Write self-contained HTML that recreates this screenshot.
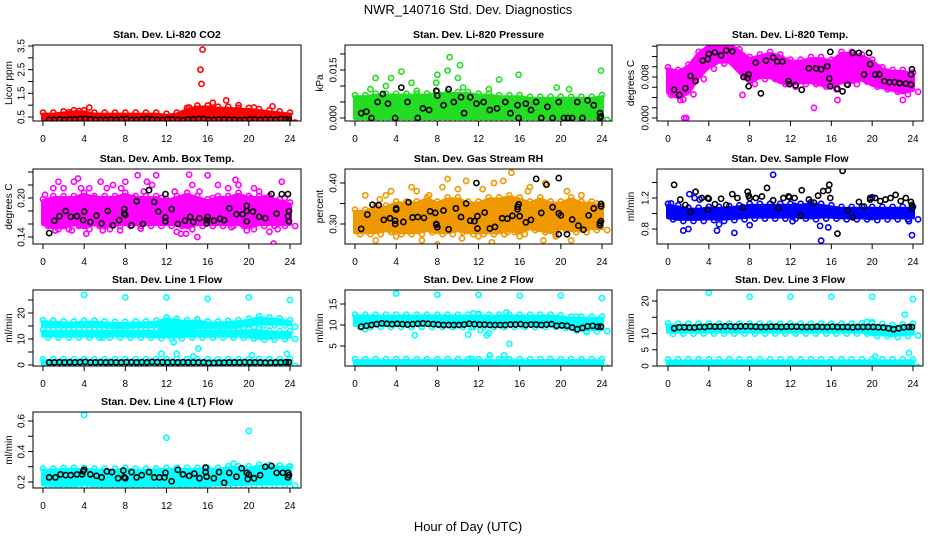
<!DOCTYPE html>
<html><head><meta charset="utf-8">
<style>
html,body{margin:0;padding:0;background:#fff;}
svg{display:block;font-family:"Liberation Sans",Helvetica,Arial,sans-serif;}
</style></head>
<body>
<svg id="chart" width="936" height="540" viewBox="0 0 936 540" xmlns="http://www.w3.org/2000/svg">
<text x="468" y="14" text-anchor="middle" font-size="13">NWR_140716  Std. Dev. Diagnostics</text>
<text x="468" y="531" text-anchor="middle" font-size="13">Hour of Day (UTC)</text>
</svg>
<script>
const xTicks = [0,4,8,12,16,20,24];
const hourGrid = [0,1,2,3,4,5,6,7,8,9,10,11,12,13,14,15,16,17,18,19,20,21,22,23,24];
const blackHours = [0.6,1.1,1.6,2.1,2.6,3.1,3.6,4.1,4.6,5.1,5.6,6.1,6.6,7.1,7.6,8.1,8.6,9.1,9.6,10.1,10.6,11.1,11.6,12.1,12.6,13.1,13.6,14.1,14.6,15.1,15.6,16.1,16.6,17.1,17.6,18.1,18.6,19.1,19.6,20.1,20.6,21.1,21.6,22.1,22.6,23.1,23.6,23.9];

// Panel 1: CO2
const co2Lo = [0.35,0.35,0.35,0.35,0.35,0.35,0.35,0.35,0.35,0.35,0.35,0.35,0.35,0.35,0.35,0.35,0.35,0.35,0.35,0.35,0.35,0.35,0.35,0.35,0.35];
const co2Hi = [0.6,0.6,0.65,0.7,0.7,0.6,0.6,0.6,0.6,0.6,0.6,0.6,0.55,0.6,0.8,0.9,0.9,0.85,0.85,0.8,0.8,0.75,0.7,0.65,0.6];
const co2Out = [[4.5,0.9],[3.5,0.75],[15.5,3.35],[15.3,2.5],[15.4,1.9],[16.5,1.1],[17.8,1.2],[19,1.0],[22.3,0.95],[20.5,0.9],[14.2,0.9],[2.5,0.7]];
const co2Black = [0.38,0.38,0.4,0.38,0.4,0.4,0.42,0.42,0.4,0.38,0.38,0.38,0.4,0.38,0.4,0.42,0.38,0.38,0.4,0.42,0.4,0.38,0.38,0.4,0.4,0.38,0.36,0.4,0.4,0.42,0.42,0.38,0.38,0.4,0.4,0.38,0.38,0.36,0.38,0.4,0.4,0.38,0.4,0.4,0.38,0.42,0.4,0.38];

// Panel 2: Pressure
const presLo = [0,0,0,0,0,0,0,0,0,0,0,0,0,0,0,0,0,0,0,0,0,0,0,0,0];
const presHi = [0.0065,0.0065,0.007,0.007,0.007,0.007,0.007,0.007,0.0075,0.0075,0.0075,0.0075,0.007,0.007,0.0065,0.0065,0.0065,0.006,0.006,0.006,0.006,0.006,0.006,0.006,0.0065];
const presOut = [[2,0.0125],[3.5,0.0125],[4.5,0.0145],[8,0.0135],[9.2,0.019],[9,0.0148],[10.2,0.0165],[10,0.0125],[14,0.012],[15.9,0.0135],[23.9,0.0148],[5.5,0.011],[3,0.01],[19.6,0.0095],[20.8,0.009],[1.5,0.009],[6,0.0085],[7.9,0.011],[10.5,0.0095],[13,0.009]];
const presBlack = [[0.6,0.0015],[1.1,0.002],[1.6,0],[2.2,0.005],[2.7,0.0075],[3.2,0.0045],[3.9,0],[4.5,0.0095],[5.1,0.005],[6.1,0],[6.6,0.003],[7.2,0.0025],[7.9,0.0085],[8,0.007],[8.6,0.004],[9.1,0.009],[9.6,0.005],[10.3,0.0065],[10.6,0.0015],[11.2,0.0065],[11.8,0.0045],[12.5,0.005],[13.1,0.0025],[13.8,0.003],[14.6,0.005],[15.1,0.0015],[15.8,0.004],[15.9,0],[16.6,0.0045],[17.1,0.0025],[17.6,0.005],[18.1,0],[18.7,0.0035],[19.2,0],[19.8,0.005],[20.3,0],[20.7,0],[21.1,0],[21.6,0.005],[22.1,0],[22.6,0.0055],[23.2,0.004],[23.8,0.0015],[23.8,0],[23.9,0.0005]];

// Panel 3: Li-820 temp
const ltLo = [0.005,0.004,0.005,0.008,0.010,0.011,0.011,0.009,0.007,0.008,0.008,0.007,0.0065,0.007,0.007,0.0065,0.006,0.007,0.007,0.0075,0.0065,0.006,0.0055,0.005,0.0055];
const ltHi = [0.0095,0.009,0.010,0.0125,0.014,0.0143,0.0143,0.013,0.0115,0.012,0.0125,0.012,0.011,0.011,0.0115,0.0115,0.011,0.0125,0.0125,0.012,0.011,0.0095,0.009,0.009,0.0085];
const ltOut = [[1.6,0],[1.8,0],[1.2,0.0035],[14.3,0.002],[16.6,0.0035],[23,0.0035],[7.3,0.0045],[0.3,0.0045]];
const ltBlack = [[0.6,0.0055],[1.1,0.0045],[1.7,0.0058],[2.2,0.0082],[2.7,0.0072],[3.4,0.0112],[3.9,0.0115],[4,0.0125],[4.6,0.0128],[5.2,0.0122],[5.7,0.0132],[6.3,0.013],[7.4,0.008],[7.8,0.0078],[7.9,0.0085],[7.9,0.0062],[8.6,0.0108],[9.1,0.0048],[9.6,0.0112],[10.3,0.0118],[10.7,0.011],[11.2,0.011],[11.8,0.0072],[11.9,0.0066],[12.5,0.0064],[13.1,0.0055],[13.8,0.0097],[14.5,0.0097],[15,0.0095],[15.6,0.0101],[15.8,0.0077],[15.9,0.0129],[15.9,0.0062],[16.6,0.0057],[17.1,0.0052],[17.6,0.0065],[18.1,0.0127],[18.7,0.0127],[19.2,0.0085],[19.7,0.0127],[19.8,0.0105],[20.3,0.0085],[20.7,0.0085],[21.2,0.0072],[21.7,0.007],[22.2,0.007],[22.7,0.0068],[23.3,0.0067],[23.8,0.0065],[23.8,0.0085],[23.9,0.0095]];

// Panel 4: Amb box temp
const abLo = [0.16,0.155,0.155,0.16,0.155,0.16,0.155,0.16,0.16,0.16,0.16,0.16,0.16,0.16,0.155,0.16,0.16,0.16,0.16,0.16,0.155,0.16,0.16,0.16,0.16];
const abHi = [0.195,0.2,0.2,0.2,0.205,0.2,0.2,0.2,0.205,0.2,0.2,0.2,0.195,0.2,0.205,0.2,0.195,0.2,0.2,0.205,0.2,0.2,0.2,0.195,0.19];
const abOut = [[0.2,0.205],[0.5,0.175],[1,0.215],[1.5,0.225],[2,0.215],[2.5,0.19],[3,0.225],[3.4,0.23],[3.7,0.215],[4.2,0.145],[4.5,0.215],[5,0.2],[5.6,0.225],[5.8,0.15],[6.2,0.215],[6.8,0.22],[7.5,0.15],[7.6,0.215],[8,0.225],[8.8,0.2],[9.2,0.235],[9.8,0.21],[10.1,0.225],[10.6,0.22],[11,0.235],[11.5,0.2],[12,0.195],[12.8,0.21],[13,0.148],[13.4,0.145],[13.9,0.145],[14.2,0.236],[14.5,0.22],[15,0.14],[15.2,0.21],[16,0.235],[16.5,0.2],[17,0.22],[18,0.215],[18.7,0.228],[19,0.22],[19.8,0.15],[20.2,0.2],[20.5,0.215],[21,0.21],[21.5,0.2],[21.9,0.165],[22,0.148],[22.4,0.13],[22.8,0.152],[23.2,0.225],[23.5,0.2],[1.2,0.15],[2.8,0.15],[9.5,0.153],[18.3,0.155]];
const abBlack = [[0.6,0.146],[1.1,0.165],[1.6,0.172],[2.2,0.18],[2.7,0.171],[3.3,0.172],[3.9,0.166],[4,0.179],[4.6,0.163],[5.2,0.173],[5.7,0.161],[6.3,0.18],[6.8,0.158],[7.4,0.166],[7.9,0.176],[7.9,0.183],[8,0.174],[8.6,0.158],[9.1,0.195],[9.7,0.16],[10.3,0.212],[10.8,0.194],[11.2,0.179],[11.9,0.17],[11.9,0.164],[11.9,0.206],[12.5,0.183],[13.1,0.16],[13.8,0.165],[14.3,0.171],[14.6,0.163],[15.2,0.169],[15.9,0.161],[15.9,0.166],[16,0.171],[16.6,0.165],[17.2,0.168],[17.6,0.166],[18.1,0.184],[18.8,0.175],[19.4,0.175],[19.8,0.164],[19.8,0.18],[19.8,0.188],[20.4,0.179],[21,0.171],[21.6,0.169],[22.2,0.206],[22.7,0.176],[23.2,0.206],[23.8,0.206],[23.8,0.172],[23.9,0.18],[23.9,0.164]];

// Panel 5: Gas stream RH
const rhLo = [0.28,0.28,0.28,0.285,0.28,0.28,0.28,0.285,0.28,0.28,0.285,0.28,0.28,0.28,0.28,0.285,0.28,0.29,0.285,0.28,0.29,0.285,0.285,0.29,0.29];
const rhHi = [0.33,0.33,0.34,0.34,0.35,0.35,0.35,0.36,0.35,0.36,0.36,0.35,0.35,0.36,0.36,0.365,0.36,0.35,0.36,0.35,0.35,0.36,0.35,0.35,0.34];
const rhOut = [[0.3,0.29],[1,0.37],[2,0.26],[2.4,0.36],[3,0.37],[4,0.27],[5.5,0.39],[6.5,0.26],[7.2,0.37],[8,0.25],[8.5,0.39],[9,0.41],[10,0.385],[10.4,0.265],[10.8,0.405],[12,0.27],[12.4,0.385],[13.3,0.255],[13.5,0.4],[14.4,0.405],[15.2,0.425],[14.8,0.28],[16,0.27],[17,0.39],[18.5,0.4],[18.3,0.26],[19.5,0.27],[20.6,0.38],[21,0.26],[22,0.37],[22.5,0.28],[23.5,0.35],[6,0.38],[3.5,0.38],[16.8,0.38]];
const rhBlack = [[0.6,0.288],[1.2,0.323],[1.7,0.347],[2.3,0.346],[2.8,0.31],[3.4,0.314],[3.9,0.3],[3.9,0.308],[4,0.335],[4,0.338],[4.7,0.305],[5.2,0.353],[5.6,0.316],[6.1,0.317],[6.7,0.315],[7.3,0.331],[7.8,0.327],[7.9,0.3],[7.9,0.298],[8,0.292],[8.6,0.333],[9.1,0.287],[9.8,0.338],[10.3,0.317],[10.8,0.35],[11.2,0.308],[11.6,0.307],[11.8,0.4],[11.9,0.319],[11.9,0.289],[12.6,0.328],[13.1,0.289],[13.6,0.293],[14.3,0.314],[14.8,0.313],[15.3,0.32],[15.8,0.336],[15.8,0.342],[15.9,0.348],[16,0.319],[16.6,0.304],[17.1,0.31],[17.6,0.41],[18.1,0.327],[18.6,0.396],[19.2,0.341],[19.8,0.275],[19.8,0.326],[19.8,0.412],[20,0.321],[20.6,0.275],[21.1,0.311],[21.7,0.296],[22.2,0.286],[22.7,0.321],[23.2,0.338],[23.8,0.302],[23.8,0.297],[23.9,0.349],[23.9,0.343],[23.9,0.307]];

// Panel 6: Sample flow
const sfLo = [0.95,0.93,0.93,0.93,0.94,0.93,0.94,0.95,0.96,0.96,0.96,0.96,0.96,0.96,0.95,0.96,0.96,0.95,0.95,0.95,0.94,0.95,0.95,0.95,0.95];
const sfHi = [1.1,1.08,1.05,1.05,1.06,1.06,1.07,1.08,1.1,1.1,1.1,1.1,1.1,1.1,1.12,1.1,1.08,1.06,1.06,1.06,1.06,1.06,1.06,1.06,1.06];
const sfOut = [[1.5,0.78],[2,0.8],[2.1,1.25],[4.8,0.78],[5,0.86],[6.5,0.75],[8,0.85],[10.3,1.5],[12.2,0.9],[15,0.65],[14.9,0.84],[15.7,0.82],[20,1.21],[23.9,0.72],[23.6,0.9],[2.6,1.2],[3.1,1.18],[0.3,1.13],[12.4,1.1]];
const sfBlack = [[0.6,1.37],[1.2,1.18],[1.7,1.11],[2.2,1.02],[2.7,1.28],[3.3,1.2],[3.9,1.2],[3.9,1.05],[4,1.19],[4.6,1.12],[5.2,1.19],[5.7,1.11],[6.3,1.25],[6.8,1.2],[7.3,1.08],[7.8,1.28],[7.9,1.23],[8,1.2],[8.6,1.2],[9.2,1.22],[9.7,1.33],[10.3,1.17],[10.8,1.07],[11.3,1.2],[11.8,1.22],[11.9,1.21],[12.4,1.2],[13.0,0.97],[13.1,1.3],[13.8,1.18],[14.3,1.14],[14.7,1.23],[15.2,1.29],[15.7,1.3],[15.8,1.37],[15.9,1.2],[16.6,0.74],[17.1,1.55],[17.6,1.04],[18.1,0.95],[18.7,1.15],[19.2,1.09],[19.8,1.2],[19.8,1.18],[20.3,1.2],[20.8,1.16],[21.3,1.18],[21.8,1.2],[22.3,1.24],[22.8,1.16],[23.3,1.2],[23.8,1.15],[23.9,1.11],[23.9,1.07]];

// Panel 7: Line 1 flow
const l1UpLo = [15,15,14.8,15,15,15,14.8,14.5,14.5,14.8,14.8,15,14,14,14,14.5,14.5,14.5,14.5,14.8,15.5,16,16,16,15.5];
const l1UpHi = [16.5,16.3,16,16,16.3,16.3,16,15.8,15.8,16,16,16.3,17.5,17,16.5,16.8,16,16,16.2,16.5,17,18,17.5,17.2,16.5];
const l1MidLo = [11.3,11.3,11.3,11.3,11.3,11.3,11.3,11.3,11.3,11.3,11.3,11,11,11,11.3,11.3,11.3,11.3,11.3,11.3,11,10.5,10.5,10.8,10.8];
const l1MidHi = [12.8,12.8,12.8,12.8,12.8,12.8,12.8,12.8,12.8,12.8,12.8,12.8,13.5,13.5,13,12.8,12.8,12.8,12.8,12.8,13,13,12.5,12.3,12.3];
const l1BotLo = [0.4,0.4,0.4,0.4,0.4,0.4,0.4,0.4,0.4,0.4,0.4,0.4,0.4,0.4,0.4,0.4,0.4,0.4,0.4,0.4,0.4,0.4,0.4,0.4,0.4];
const l1BotHi = [1.5,1.5,1.5,1.5,1.5,1.5,1.5,1.5,1.5,1.5,1.5,1.5,1.5,1.5,1.5,1.5,1.5,1.5,1.5,1.5,1.5,1.5,1.5,1.5,1.5];
const l1Out = [[4,27],[8,26],[12,26],[16,25.5],[20,26],[24,25],[11.5,4.3],[12.7,8.7],[13,4.3],[14.6,3.3],[15.1,6.3],[20.3,3.7],[23.7,4.3],[5.8,10.5],[20.5,10.3]];
const l1Black = [1.0,1.0,1.1,1.0,1.1,1.0,1.1,1.2,1.0,1.0,1.1,1.0,1.1,1.0,1.0,1.1,1.1,1.0,1.1,1.0,1.2,1.1,1.1,1.0,1.1,1.0,1.1,1.0,1.0,1.0,1.0,0.8,0.8,0.9,0.9,1.0,1.0,1.0,1.1,1.0,1.0,1.0,0.9,0.9,1.0,1.0,1.1,1.1];

// Panel 8: Line 2 flow
const l2UpLo = [10,10,10,10,10,10,10,10,10,10,10,10,10,10,10,10,10,10,10,10,9.8,9.2,9,9,9];
const l2UpHi = [12,12,12,12,12,12,12,12,12,12,12,12,12,12,12,12,12,12,12,12,11.8,11.5,11.5,11.5,11.5];
const l2BotLo = [0.3,0.3,0.3,0.3,0.3,0.3,0.3,0.3,0.3,0.3,0.3,0.3,0.3,0.3,0.3,0.3,0.3,0.3,0.3,0.3,0.3,0.3,0.3,0.3,0.3];
const l2BotHi = [1.4,1.4,1.4,1.4,1.4,1.4,1.4,1.4,1.4,1.4,1.4,1.4,1.4,1.4,1.4,1.4,1.4,1.4,1.4,1.4,1.4,1.4,1.4,1.4,1.4];
const l2Out = [[4,17.5],[8,17.2],[12,17.2],[16,17],[20,17],[24,16.4],[5.8,7.6],[11,7.7],[11.3,9.4],[11.3,2],[11.5,12.8],[12,12.7],[12.2,8.8],[12.8,7.6],[13,8.1],[13.1,2.8],[14.5,2.8],[14.7,13],[15,5.5],[21.5,12],[22.5,8.3],[1,9]];
const l2Black = [9.6,9.8,10,10.2,10.4,10.3,10.2,10.3,10.2,10.1,10.2,10.3,10.4,10.3,10.2,10.1,10,10,10,10,10.1,10.3,10.2,10.1,10.1,10,10,10,10,10.1,10.1,10.2,10,10.1,10.1,10,10.1,10.2,9.8,9.9,9.8,9.4,9,9.3,9.7,9.8,9.6,9.6];

// Panel 9: Line 3 flow
const l3UpLo = [10.5,10.6,10.6,10.6,10.6,10.6,10.6,10.6,10.6,10.6,10.6,10.6,10.6,10.6,10.6,10.6,10.6,10.6,10.6,10.6,9.8,9.8,9.5,9.8,10];
const l3UpHi = [12.5,12.4,12.4,12.4,12.4,12.4,12.4,12.4,12.4,12.4,12.4,12.4,12.4,12.4,12.4,12.4,12.4,12.4,12.4,12.5,12.5,12.3,12,12.2,12.4];
const l3BotLo = [0.3,0.3,0.3,0.3,0.3,0.3,0.3,0.3,0.3,0.3,0.3,0.3,0.3,0.3,0.3,0.3,0.3,0.3,0.3,0.3,0.3,0.3,0.3,0.3,0.3];
const l3BotHi = [1.4,1.4,1.4,1.4,1.4,1.4,1.4,1.4,1.4,1.4,1.4,1.4,1.4,1.4,1.4,1.4,1.4,1.4,1.4,1.4,1.4,1.4,1.4,1.4,1.4];
const l3Out = [[4,22.5],[8,21.3],[12,21.3],[16,21.3],[20,21.3],[24,20.6],[20.3,2.9],[23.6,4],[23.2,15.8],[19.5,13.6],[20,13.5]];
const l3Black = [11.6,11.9,11.9,11.8,11.8,12,12,12.2,12.1,12.1,12.2,12.2,12.1,12.2,12.2,12.2,12.1,12,12,12.1,12.1,12,12.1,12.1,12.1,12,12,12,12.1,12,12,12.1,12,12,12,11.9,12,12,12,12,11.9,11.8,11.6,11.3,11.6,11.9,12,12];

// Panel 10: Line 4 flow
const l4Lo = [0.185,0.18,0.18,0.18,0.185,0.18,0.18,0.18,0.18,0.18,0.18,0.18,0.18,0.18,0.18,0.18,0.18,0.185,0.185,0.185,0.19,0.19,0.19,0.19,0.19];
const l4Hi = [0.275,0.275,0.28,0.28,0.28,0.275,0.275,0.275,0.28,0.275,0.275,0.275,0.28,0.28,0.28,0.28,0.28,0.28,0.29,0.29,0.29,0.3,0.3,0.295,0.29];
const l4Out = [[4,0.64],[12,0.49],[20,0.535],[18.5,0.32],[23.9,0.3],[6,0.17],[13.7,0.17],[0.3,0.23]];
const l4Black = [[0.6,0.23],[1.2,0.23],[1.7,0.25],[2.2,0.245],[2.7,0.245],[3.3,0.25],[3.8,0.25],[3.9,0.27],[4,0.28],[4.6,0.25],[5.2,0.24],[5.7,0.23],[6.2,0.27],[6.7,0.265],[7.3,0.225],[7.8,0.275],[7.9,0.23],[8,0.225],[8.6,0.265],[9.1,0.23],[9.6,0.245],[10.3,0.265],[10.8,0.23],[11.3,0.23],[11.8,0.23],[11.9,0.26],[12.5,0.205],[13.1,0.28],[13.6,0.25],[14.2,0.24],[14.7,0.255],[15.2,0.225],[15.8,0.295],[15.8,0.265],[15.9,0.235],[16.6,0.225],[17.1,0.265],[17.6,0.195],[18.1,0.26],[18.8,0.235],[19.3,0.29],[19.8,0.26],[19.9,0.22],[20.0,0.25],[20.5,0.225],[21.1,0.245],[21.6,0.3],[22.2,0.305],[22.7,0.26],[23.3,0.26],[23.8,0.26],[23.8,0.23],[23.9,0.245]];

const NS = "http://www.w3.org/2000/svg";
const svg = document.getElementById('chart');
function mk(tag, attrs, parent){
  const e = document.createElementNS(NS, tag);
  for (const k in attrs) e.setAttribute(k, attrs[k]);
  (parent||svg).appendChild(e);
  return e;
}
function zip(h, v){ return h.map((x,i)=>[x, v[i]]); }

const cols = [{b0:33,b1:301,p0:43,p1:290,yt:12,yl:22},{b0:345,b1:612,p0:355,p1:602,yt:323,yl:334},{b0:657,b1:923,p0:668,p1:913,yt:634,yl:646}];
const rows = [{t:45,b:121},{t:169,b:244},{t:290,b:366},{t:412,b:488}];

const panels = [
 {title:"Stan. Dev. Li-820 CO2", ylab:"Licor ppm", r:0,c:0, a:[0.5,117,3.5,46], ticks:[0.5,1,1.5,2,2.5,3,3.5], labels:[0.5,1.5,2.5,3.5], fmt:1, color:"#ff0000", bands:[[co2Lo,co2Hi]], out:co2Out, black:zip(blackHours,co2Black)},
 {title:"Stan. Dev. Li-820 Pressure", ylab:"kPa", r:0,c:1, a:[0,118,0.015,70], ticks:[0,0.005,0.01,0.015,0.02], labels:[0,0.015], fmt:3, color:"#22dd22", bands:[[presLo,presHi]], out:presOut, black:presBlack},
 {title:"Stan. Dev. Li-820 Temp.", ylab:"degrees C", r:0,c:2, a:[0,118,0.008,77], ticks:[0,0.002,0.004,0.006,0.008,0.01,0.012,0.014], labels:[0,0.008], fmt:3, color:"#ff00ff", bands:[[ltLo,ltHi]], out:ltOut, black:ltBlack},
 {title:"Stan. Dev. Amb. Box Temp.", ylab:"degrees C", r:1,c:0, a:[0.14,237,0.20,198], ticks:[0.14,0.16,0.18,0.2,0.22,0.24], labels:[0.14,0.2], fmt:2, color:"#ff00ff", bands:[[abLo,abHi]], out:abOut, black:abBlack},
 {title:"Stan. Dev. Gas Stream RH", ylab:"percent", r:1,c:1, a:[0.30,224,0.40,183], ticks:[0.3,0.35,0.4], labels:[0.3,0.4], fmt:2, color:"#f09800", bands:[[rhLo,rhHi]], out:rhOut, black:rhBlack},
 {title:"Stan. Dev. Sample Flow", ylab:"ml/min", r:1,c:2, a:[0.8,229,1.2,198], ticks:[0.8,1.0,1.2,1.4], labels:[0.8,1.2], fmt:1, color:"#0000ff", bands:[[sfLo,sfHi]], out:sfOut, black:sfBlack},
 {title:"Stan. Dev. Line 1 Flow", ylab:"ml/min", r:2,c:0, a:[0,365,20,313], ticks:[0,5,10,15,20,25], labels:[0,10,20], fmt:0, color:"#00ffff", bands:[[l1UpLo,l1UpHi],[l1MidLo,l1MidHi],[l1BotLo,l1BotHi]], out:l1Out, black:zip(blackHours,l1Black)},
 {title:"Stan. Dev. Line 2 Flow", ylab:"ml/min", r:2,c:1, a:[5,346,15,304], ticks:[5,10,15], labels:[5,10,15], fmt:0, color:"#00ffff", bands:[[l2UpLo,l2UpHi],[l2BotLo,l2BotHi]], out:l2Out, black:zip(blackHours,l2Black)},
 {title:"Stan. Dev. Line 3 Flow", ylab:"ml/min", r:2,c:2, a:[0,366,20,301], ticks:[0,5,10,15,20], labels:[0,5,10,20], fmt:0, color:"#00ffff", bands:[[l3UpLo,l3UpHi],[l3BotLo,l3BotHi]], out:l3Out, black:zip(blackHours,l3Black)},
 {title:"Stan. Dev. Line 4 (LT) Flow", ylab:"ml/min", r:3,c:0, a:[0.2,482,0.6,421], ticks:[0.2,0.3,0.4,0.5,0.6], labels:[0.2,0.4,0.6], fmt:1, color:"#00ffff", bands:[[l4Lo,l4Hi]], out:l4Out, black:l4Black}
];

panels.forEach((p, pi) => {
  const col = cols[p.c], row = rows[p.r];
  const xs = h => col.p0 + (h/24)*(col.p1-col.p0);
  const ys = v => p.a[1] + (v-p.a[0])*(p.a[3]-p.a[1])/(p.a[2]-p.a[0]);
  const g = mk('g', {});
  
  
  const cid = 'clip' + pi;
  const cp = mk('clipPath', {id:cid}, g);
  mk('rect', {x:col.b0, y:row.t, width:col.b1-col.b0, height:row.b-row.t}, cp);
  const t = mk('text', {x:(col.b0+col.b1)/2, y:row.t-7, 'text-anchor':'middle', 'font-size':10.5, 'font-weight':'bold'}, g);
  t.textContent = p.title;
  
  
  const yt = mk('text', {x:col.yt, y:(row.t+row.b)/2, 'text-anchor':'middle', 'font-size':10, transform:`rotate(-90 ${col.yt} ${(row.t+row.b)/2})`}, g);
  yt.textContent = p.ylab;
  
  
  const plot = mk('g', {'clip-path':`url(#${cid})`}, g);
  
  
  p.bands.forEach(([lo, hi]) => {
    let d = hourGrid.map((h,i)=>(i?'L':'M')+xs(h).toFixed(1)+','+ys(hi[i]).toFixed(1)).join('');
    for (let i = hourGrid.length-1; i >= 0; i--) d += 'L'+xs(hourGrid[i]).toFixed(1)+','+ys(lo[i]).toFixed(1);
    const band = mk('path', {d:d+'Z', fill:p.color, stroke:p.color, 'stroke-width':4, 'stroke-linejoin':'round'}, plot);
    
    
    hourGrid.forEach((h, i) => {
      const c1 = mk('circle', {cx:xs(h), cy:ys(hi[i])-2, r:2.6, fill:'none', stroke:p.color, 'stroke-width':1.6}, plot);
      
      
      const c2 = mk('circle', {cx:xs(h+0.5), cy:ys(lo[i])+2, r:2.6, fill:'none', stroke:p.color, 'stroke-width':1.6}, plot);
      
      
    });
  });
  p.out.forEach(([h, v]) => {
    const c = mk('circle', {cx:xs(h), cy:ys(v), r:2.6, fill:'none', stroke:p.color, 'stroke-width':1.6}, plot);
    
    
  });
  p.black.forEach(([h, v]) => {
    const c = mk('circle', {cx:xs(h), cy:ys(v), r:2.6, fill:'none', stroke:'#000', 'stroke-width':1.6}, plot);
    
    
  });
  const box = mk('rect', {x:col.b0, y:row.t, width:col.b1-col.b0, height:row.b-row.t, fill:'none', stroke:'#000', 'stroke-width':1}, g);
  
  
  xTicks.forEach(h => {
    const tk = mk('line', {x1:xs(h), x2:xs(h), y1:row.b, y2:row.b+5, stroke:'#000'}, g);
    
    
    const lb = mk('text', {x:xs(h), y:row.b+21, 'text-anchor':'middle', 'font-size':10}, g);
    lb.textContent = h;
    
    
  });
  p.ticks.forEach(v => {
    const tk = mk('line', {x1:col.b0-5, x2:col.b0, y1:ys(v), y2:ys(v), stroke:'#000'}, g);
    
    
  });
  p.labels.forEach(v => {
    const lx = col.yl, ly = ys(v);
    const lb = mk('text', {x:lx, y:ly, 'text-anchor':'middle', 'font-size':10, 'dominant-baseline':'central', transform:`rotate(-90 ${lx} ${ly})`}, g);
    lb.textContent = v.toFixed(p.fmt);
    
    
  });
});
</script>
</body></html>
